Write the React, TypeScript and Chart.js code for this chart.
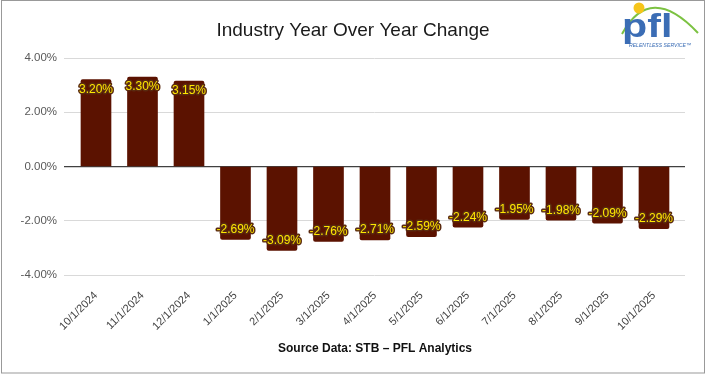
import React, { useEffect, useRef } from "react";
import { Chart, registerables } from "chart.js";

Chart.register(...registerables);

const categories = [
  "10/1/2024", "11/1/2024", "12/1/2024", "1/1/2025", "2/1/2025", "3/1/2025",
  "4/1/2025", "5/1/2025", "6/1/2025", "7/1/2025", "8/1/2025", "9/1/2025", "10/1/2025",
];
const yoyChange = [3.2, 3.3, 3.15, -2.69, -3.09, -2.76, -2.71, -2.59, -2.24, -1.95, -1.98, -2.09, -2.29];
const yTicks = [-4, -2, 0, 2, 4];
const titleText = "Industry Year Over Year Change";
const footerText = "Source Data: STB \u2013 PFL Analytics";
const logoText = "pfl";
const logoTagline = "RELENTLESS SERVICE\u2122";

const BAR_COLOR = "#5B1200";
const FONT = "'Liberation Sans', Arial, sans-serif";

const decorPlugin = {
  id: "decor",
  afterDatasetsDraw(chart: any) {
    const ctx = chart.ctx;
    const meta = chart.getDatasetMeta(0);
    ctx.save();
    ctx.font = `12px ${FONT}`;
    ctx.textAlign = "center";
    ctx.textBaseline = "middle";
    ctx.lineJoin = "round";
    meta.data.forEach((bar: any, i: number) => {
      const v = yoyChange[i];
      const y = bar.y + (v >= 0 ? 9.5 : -10);
      const txt = v.toFixed(2) + "%";
      ctx.lineWidth = 3;
      ctx.strokeStyle = "#5a2a10";
      ctx.strokeText(txt, bar.x, y);
      ctx.fillStyle = "#FFE800";
      ctx.fillText(txt, bar.x, y);
    });
    ctx.restore();
  },
  afterDraw(chart: any) {
    const ctx = chart.ctx;
    ctx.save();
    // title
    ctx.fillStyle = "#1a1a1a";
    ctx.font = `19px ${FONT}`;
    ctx.textAlign = "center";
    ctx.textBaseline = "alphabetic";
    ctx.fillText(titleText, 353, 36);
    // footer
    ctx.font = `bold 12px ${FONT}`;
    ctx.fillStyle = "#111";
    ctx.fillText(footerText, 375, 352);
    // logo arc
    ctx.beginPath();
    ctx.moveTo(622, 34);
    ctx.quadraticCurveTo(650, -18, 698, 33);
    ctx.strokeStyle = "#7cc242";
    ctx.lineWidth = 2;
    ctx.stroke();
    ctx.beginPath();
    ctx.arc(639, 8, 5.5, 0, Math.PI * 2);
    ctx.fillStyle = "#f6c51b";
    ctx.fill();
    // logo letters
    ctx.save();
    ctx.translate(622, 37);
    ctx.scale(1.25, 1);
    ctx.font = `bold 33px ${FONT}`;
    ctx.textAlign = "left";
    ctx.fillStyle = "#3b6db5";
    ctx.fillText(logoText, 0, 0);
    ctx.restore();
    ctx.font = `italic 6px ${FONT}`;
    ctx.textAlign = "left";
    ctx.fillStyle = "#3b6db5";
    ctx.fillText(logoTagline, 629, 47, 62);
    // border
    ctx.strokeStyle = "#999";
    ctx.lineWidth = 1;
    ctx.strokeRect(1.5, 0.5, 703, 372.5);
    ctx.restore();
  },
};

export default function App() {
  const ref = useRef<HTMLCanvasElement>(null);
  useEffect(() => {
    if (!ref.current) return;
    const chart = new Chart(ref.current, {
      type: "bar",
      data: {
        datasets: [
          {
            data: yoyChange.map((v, i) => ({ x: i, y: v })),
            backgroundColor: BAR_COLOR,
            barThickness: 30,
            borderRadius: 2,
          },
        ],
      },
      options: {
        responsive: false,
        animation: false,
        layout: { padding: { left: 0, right: 21, top: 58, bottom: 40 } },
        plugins: {
          legend: { display: false },
          tooltip: { enabled: false },
          title: { display: false },
        },
        scales: {
          x: {
            type: "linear",
            offset: false,
            min: -0.688,
            max: 12.667,
            grid: { display: false },
            border: { display: false },
            afterBuildTicks: (scale: any) => {
              scale.ticks = categories.map((_, i) => ({ value: i }));
            },
            afterFit: (scale: any) => {
              scale.height = 61;
            },
            ticks: {
              autoSkip: false,
              minRotation: 45,
              maxRotation: 45,
              padding: 6,
              color: "#404040",
              font: { family: FONT, size: 11 },
              callback: (v: any) => categories[v] ?? "",
            },
          },
          y: {
            min: -4,
            max: 4,
            afterBuildTicks: (scale: any) => {
              scale.ticks = yTicks.map((v) => ({ value: v }));
            },
            afterFit: (scale: any) => {
              scale.width = 64;
            },
            border: { display: false },
            grid: {
              drawTicks: false,
              color: (c: any) => (c.tick && c.tick.value === 0 ? "#404040" : "#d9d9d9"),
              lineWidth: (c: any) => (c.tick && c.tick.value === 0 ? 1.3 : 1),
            },
            ticks: {
              padding: 7,
              color: "#595959",
              font: { family: FONT, size: 11.5 },
              callback: (v: any) => Number(v).toFixed(2) + "%",
            },
          },
        },
      },
      plugins: [decorPlugin],
    });
    return () => chart.destroy();
  }, []);
  return (
    <div style={{ position: "fixed", left: 0, top: 0, width: 706, height: 376, background: "#fff" }}>
      <canvas ref={ref} width={706} height={376} style={{ width: 706, height: 376, display: "block" }} />
    </div>
  );
}
